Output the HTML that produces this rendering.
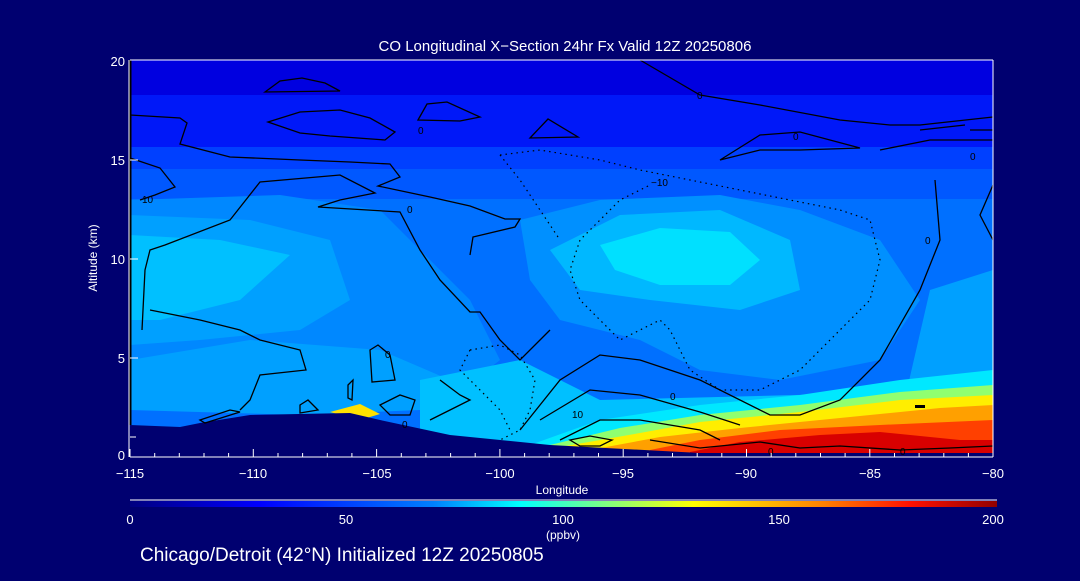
<!DOCTYPE html>
<html><head><style>
body{margin:0;background:#000070;width:1080px;height:576px;overflow:hidden;font-family:"Liberation Sans",sans-serif}
</style></head><body>
<svg width="1080" height="576" viewBox="0 0 1080 576" xmlns="http://www.w3.org/2000/svg" font-family="Liberation Sans, sans-serif" fill="#fff">
<rect width="1080" height="576" fill="#000070"/>
<defs>
<linearGradient id="cb" x1="0" x2="1"><stop offset="0" stop-color="#000080"/><stop offset="0.15" stop-color="#0000ff"/><stop offset="0.35" stop-color="#0080ff"/><stop offset="0.45" stop-color="#00ffff"/><stop offset="0.55" stop-color="#80ff80"/><stop offset="0.65" stop-color="#ffff00"/><stop offset="0.8" stop-color="#ff8000"/><stop offset="0.9" stop-color="#ff1000"/><stop offset="1" stop-color="#900000"/></linearGradient>
<clipPath id="pc"><rect x="130" y="60" width="863" height="397"/></clipPath>
</defs>
<g clip-path="url(#pc)">
<rect x="130" y="60" width="863" height="397" fill="#0070ff"/>
<rect x="130" y="60" width="863" height="35" fill="#0000e0"/>
<rect x="130" y="95" width="863" height="52" fill="#0018f8"/>
<rect x="130" y="147" width="863" height="22" fill="#0040ff"/>
<rect x="130" y="169" width="863" height="30" fill="#0058ff"/>
<path d="M130 200 L280 195 L380 210 L420 250 L470 300 L500 360 L450 400 L300 410 L130 410Z" fill="#0088ff"/>
<path d="M130 215 L250 220 L330 240 L350 300 L300 330 L200 340 L130 345Z" fill="#00a0ff"/>
<path d="M130 235 L220 240 L290 255 L240 300 L160 320 L130 320Z" fill="#00c0ff"/>
<path d="M130 360 L250 340 L380 350 L450 380 L420 410 L300 415 L130 410Z" fill="#00a0ff"/>
<path d="M520 220 L600 200 L720 195 L800 210 L880 240 L920 300 L880 360 L780 380 L700 370 L640 340 L560 320 L530 280Z" fill="#0090ff"/>
<path d="M550 250 L620 215 L720 210 L790 240 L800 290 L740 310 L650 300 L580 290Z" fill="#00b8ff"/>
<path d="M600 245 L660 228 L730 232 L760 260 L730 285 L660 285 L615 270Z" fill="#00e0ff"/>
<path d="M930 290 L993 270 L993 420 L900 420Z" fill="#00a0ff"/>
<path d="M420 380 L520 360 L560 380 L600 400 L993 390 L993 457 L420 457Z" fill="#00c0ff"/>
<path d="M530 445 L600 420 L700 405 L800 395 L900 380 L993 370 L993 457 L530 457Z" fill="#00e8ff"/>
<path d="M550 445 L620 428 L700 415 L800 405 L900 392 L993 385 L993 457 L550 457Z" fill="#90ff70"/>
<path d="M560 447 L640 433 L700 422 L800 412 L900 400 L993 395 L993 457 L560 457Z" fill="#ffee00"/>
<path d="M590 450 L660 437 L740 428 L840 418 L940 408 L993 405 L993 457 L590 457Z" fill="#ffa000"/>
<path d="M650 450 L700 440 L780 430 L880 425 L993 420 L993 457 L650 457Z" fill="#ff4000"/>
<path d="M690 452 L740 442 L820 435 L880 432 L960 440 L993 440 L993 457 L690 457Z" fill="#d80000"/>
<path d="M330 412 L360 404 L380 414 L360 420Z" fill="#ffe000"/>
<path d="M130 425 L180 427 L200 423 L250 415 L350 413 L380 420 L450 435 L550 445 L700 453 L993 453 L993 460 L130 460Z" fill="#000070"/>
</g>
<g fill="none" stroke="#000" stroke-width="1.3">
<path d="M265 92 L280 81 L302 78 L325 83 L340 91Z"/>
<path d="M268 122 L300 112 L340 110 L370 118 L395 132 L385 140 L330 136 L300 133Z"/>
<path d="M418 120 L427 104 L447 102 L480 117 L460 121Z"/>
<path d="M530 138 L548 119 L578 137Z"/>
<path d="M130 115 L180 118 L187 123 L180 144 L230 157 L300 160 L350 162 L390 164 L400 177 L378 186 L430 197 L470 206 L505 219 L520 219 L515 227 L473 237 L470 255"/>
<path d="M130 158 L160 168 L175 187 L155 195 L140 200"/>
<path d="M142 330 L145 270 L150 250 L165 245 L230 220 L260 182 L340 175 L375 193 L340 200 L318 207 L400 212 L420 250 L440 280 L470 312 L480 312 L500 340 L520 360 L540 340 L550 330"/>
<path d="M150 310 L200 320 L240 330 L260 340 L300 350 L306 370 L260 375 L250 400 L240 410"/>
<path d="M640 60 L700 95 L760 105 L840 120 L890 125 L920 125 L993 117"/>
<path d="M720 160 L760 135 L800 132 L860 148 L800 150 L760 150Z"/>
<path d="M880 150 L930 140 L993 140"/>
<path d="M970 130 L993 130 M965 125 L920 130"/>
<path d="M993 185 L980 215 L993 240"/>
<path d="M520 430 L560 380 L600 355 L640 360 L700 380 L770 415 L800 415 L840 400 L880 360 L920 290 L940 240 L935 180"/>
<path d="M540 420 L590 390 L640 395 L700 412 L740 425"/>
<path d="M560 440 L600 420 L640 420 L700 430 L720 440"/>
<path d="M570 440 L590 436 L612 440 L600 446 L580 446Z"/>
<path d="M380 405 L400 395 L415 400 L410 415 L390 415Z"/>
<path d="M370 350 L378 345 L390 355 L395 380 L372 382Z"/>
<path d="M300 405 L308 400 L318 410 L300 413Z"/>
<path d="M200 420 L230 410 L240 412 L205 423Z"/>
<path d="M348 385 L353 380 L352 400 L348 398Z"/>
<path d="M440 380 L460 395 L470 400 L450 410 L430 420"/>
<path d="M650 440 L700 448 L760 442 L800 448 L840 446 L900 450 L950 448 L993 446"/>
</g>
<g fill="none" stroke="#000" stroke-width="1.2" stroke-dasharray="1.5 4">
<path d="M500 155 L540 150 L600 160 L640 170 L680 178 L730 188 L790 200 L840 210 L870 220 L880 260 L870 300 L840 330 L800 370 L760 390 L720 390 L690 370 L670 330 L660 320 L620 340 L600 320 L580 300 L570 270 L580 240 L620 200 L650 185"/>
<path d="M470 350 L500 345 L520 355 L535 380 L530 410 L520 430 L500 440"/>
<path d="M470 350 L460 370 L480 390 L500 410 L510 430"/>
<path d="M500 155 L520 180 L540 210 L560 240"/>
</g>
<g fill="#000" font-size="10">
<text x="142" y="203">10</text><text x="407" y="213">0</text><text x="418" y="134">0</text>
<text x="697" y="99">0</text><text x="793" y="140">0</text><text x="970" y="160">0</text>
<text x="651" y="186">−10</text><text x="925" y="244">0</text><text x="572" y="418">10</text>
<text x="670" y="400">0</text><text x="402" y="428">0</text><text x="385" y="358">0</text>
<text x="768" y="455">0</text><text x="900" y="455">0</text>
</g>
<rect x="915" y="405" width="10" height="3" fill="#000"/>
<line x1="130" y1="60" x2="993" y2="60" stroke="#fff"/>
<line x1="130" y1="60" x2="130" y2="425" stroke="#000" stroke-width="3"/>
<line x1="130" y1="457" x2="993" y2="457" stroke="#fff"/>
<line x1="993" y1="60" x2="993" y2="457" stroke="#fff"/>
<line x1="129" y1="60" x2="129" y2="457" stroke="#fff"/>
<g stroke="#fff">
<path d="M130 457v-8M154.7 457v-4M179.3 457v-4M204 457v-4M228.6 457v-4M253.3 457v-8M278 457v-4M302.6 457v-4M327.3 457v-4M351.9 457v-4M376.6 457v-8M401.3 457v-4M425.9 457v-4M450.6 457v-4M475.2 457v-4M499.9 457v-8M524.6 457v-4M549.2 457v-4M573.9 457v-4M598.5 457v-4M623.2 457v-8M647.9 457v-4M672.5 457v-4M697.2 457v-4M721.8 457v-4M746.5 457v-8M771.2 457v-4M795.8 457v-4M820.5 457v-4M845.1 457v-4M869.8 457v-8M894.5 457v-4M919.1 457v-4M943.8 457v-4M968.4 457v-4M993 457v-8"/>
<path d="M130 437h6M130 358h8M130 259h8M130 160h8M130 60h8"/>
</g>
<g font-size="13" text-anchor="middle">
<text x="130" y="478">−115</text><text x="253" y="478">−110</text><text x="377" y="478">−105</text><text x="500" y="478">−100</text><text x="623" y="478">−95</text><text x="746" y="478">−90</text><text x="870" y="478">−85</text><text x="993" y="478">−80</text>
<text x="562" y="494" font-size="12">Longitude</text>
</g>
<g font-size="13" text-anchor="end">
<text x="125" y="460">0</text><text x="125" y="363">5</text><text x="125" y="264">10</text><text x="125" y="165">15</text><text x="125" y="66">20</text>
</g>
<text transform="translate(97 258) rotate(-90)" font-size="12" text-anchor="middle">Altitude (km)</text>
<text x="565" y="51" font-size="15" text-anchor="middle">CO Longitudinal X−Section 24hr  Fx Valid 12Z 20250806</text>
<line x1="130" y1="500" x2="997" y2="500" stroke="#fff"/>
<rect x="130" y="501" width="867" height="6" fill="url(#cb)"/>
<g font-size="13" text-anchor="middle">
<text x="130" y="524">0</text><text x="346" y="524">50</text><text x="563" y="524">100</text><text x="779" y="524">150</text><text x="993" y="524">200</text>
<text x="563" y="539" font-size="12">(ppbv)</text>
</g>
<text x="140" y="561" font-size="19">Chicago/Detroit (42°N) Initialized 12Z 20250805</text>
</svg>
</body></html>
